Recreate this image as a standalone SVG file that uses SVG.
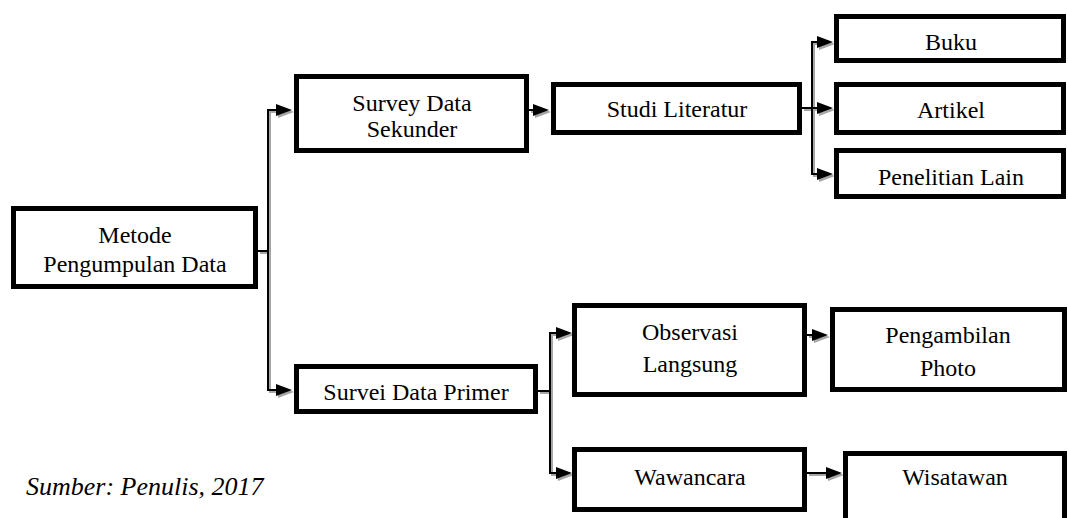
<svg xmlns="http://www.w3.org/2000/svg" width="1068" height="518" viewBox="0 0 1068 518">
<style>
.box{fill:#fff;stroke:#000;stroke-width:5}
.t{font-family:"Liberation Serif","Times New Roman",serif;font-size:24px;fill:#000;text-anchor:middle}
.ln{fill:none;stroke:#000;stroke-width:2}
.sh{fill:none;stroke:#a6a6a6;stroke-width:2}
</style>
<defs>
<marker id="ah" markerUnits="userSpaceOnUse" markerWidth="18" markerHeight="14" refX="8" refY="6" orient="auto">
<path d="M0,0 L16,6 L0,12 z" fill="#000"/>
</marker>
<marker id="ahs" markerUnits="userSpaceOnUse" markerWidth="18" markerHeight="14" refX="8" refY="6" orient="auto">
<path d="M0,0 L16,6 L0,12 z" fill="#a6a6a6"/>
</marker>
</defs>
<g id="connectors">
<g transform="translate(2,2)">
<path class="sh" d="M258,251 H268 V110 H284" marker-end="url(#ahs)"/>
<path class="sh" d="M268,251 V390 H284" marker-end="url(#ahs)"/>
<path class="sh" d="M529,110 H541" marker-end="url(#ahs)"/>
<path class="sh" d="M802,108 H825" marker-end="url(#ahs)"/>
<path class="sh" d="M812,108 V42 H825" marker-end="url(#ahs)"/>
<path class="sh" d="M812,108 V174 H825" marker-end="url(#ahs)"/>
<path class="sh" d="M538,391 H550 V333 H564" marker-end="url(#ahs)"/>
<path class="sh" d="M550,391 V473 H564" marker-end="url(#ahs)"/>
<path class="sh" d="M807,335 H820" marker-end="url(#ahs)"/>
<path class="sh" d="M807,473 H834" marker-end="url(#ahs)"/>
</g>
<path class="ln" d="M258,251 H268 V110 H284" marker-end="url(#ah)"/>
<path class="ln" d="M268,251 V390 H284" marker-end="url(#ah)"/>
<path class="ln" d="M529,110 H541" marker-end="url(#ah)"/>
<path class="ln" d="M802,108 H825" marker-end="url(#ah)"/>
<path class="ln" d="M812,108 V42 H825" marker-end="url(#ah)"/>
<path class="ln" d="M812,108 V174 H825" marker-end="url(#ah)"/>
<path class="ln" d="M538,391 H550 V333 H564" marker-end="url(#ah)"/>
<path class="ln" d="M550,391 V473 H564" marker-end="url(#ah)"/>
<path class="ln" d="M807,335 H820" marker-end="url(#ah)"/>
<path class="ln" d="M807,473 H834" marker-end="url(#ah)"/>
</g>
<g id="metode">
<rect class="box" x="13.5" y="208.5" width="242" height="78"/>
<text class="t" x="135" y="243">Metode</text>
<text class="t" x="135" y="272">Pengumpulan Data</text>
</g>
<g id="survey-sekunder">
<rect class="box" x="296.5" y="76.5" width="230" height="74"/>
<text class="t" x="412" y="111">Survey Data</text>
<text class="t" x="412" y="137">Sekunder</text>
</g>
<g id="studi-literatur">
<rect class="box" x="553.5" y="84.5" width="246" height="48"/>
<text class="t" x="677" y="117">Studi Literatur</text>
</g>
<g id="buku">
<rect class="box" x="836.5" y="16.5" width="227" height="44"/>
<text class="t" x="951" y="50">Buku</text>
</g>
<g id="artikel">
<rect class="box" x="836.5" y="84.5" width="227" height="48"/>
<text class="t" x="951" y="118">Artikel</text>
</g>
<g id="penelitian-lain">
<rect class="box" x="836.5" y="150.5" width="227" height="46"/>
<text class="t" x="951" y="185">Penelitian Lain</text>
</g>
<g id="survei-primer">
<rect class="box" x="296.5" y="366.5" width="239" height="45"/>
<text class="t" x="416" y="400">Survei Data Primer</text>
</g>
<g id="observasi">
<rect class="box" x="574.5" y="305.5" width="230" height="89"/>
<text class="t" x="690" y="340">Observasi</text>
<text class="t" x="690" y="372">Langsung</text>
</g>
<g id="wawancara">
<rect class="box" x="574.5" y="449.5" width="230" height="60"/>
<text class="t" x="690" y="485">Wawancara</text>
</g>
<g id="pengambilan">
<rect class="box" x="832.5" y="309.5" width="232" height="80"/>
<text class="t" x="948" y="343">Pengambilan</text>
<text class="t" x="948" y="376">Photo</text>
</g>
<g id="wisatawan">
<rect class="box" x="845.5" y="453.5" width="219" height="80"/>
<text class="t" x="955" y="485">Wisatawan</text>
</g>
<text x="26" y="495" font-family="Liberation Serif,'Times New Roman',serif" font-size="26" font-style="italic" fill="#000">Sumber: Penulis, 2017</text>
</svg>
